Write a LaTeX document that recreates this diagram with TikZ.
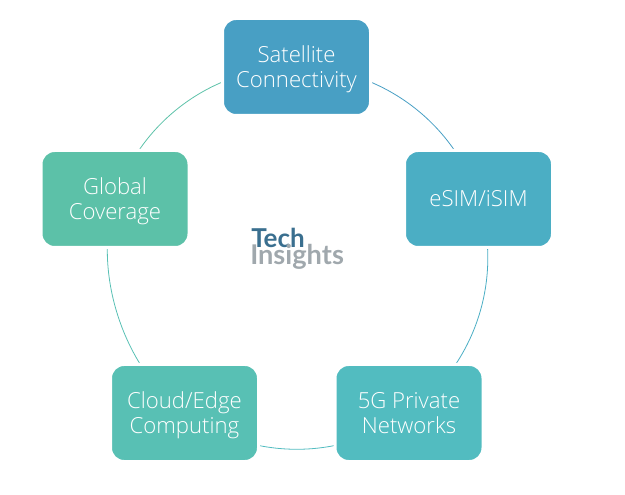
\documentclass[tikz,border=0pt]{standalone}
\usepackage{fontspec}
\setmainfont{Open Sans Light}
\newfontfamily\logofont{Lato}
\usepackage{tikz}
\usetikzlibrary{backgrounds}
\definecolor{SatBlue}{HTML}{489FC4}
\definecolor{EsimBlue}{HTML}{4BAEC4}
\definecolor{PrivateTeal}{HTML}{52BCC0}
\definecolor{CloudTeal}{HTML}{58C0B4}
\definecolor{GlobalGreen}{HTML}{5CC1A8}
\definecolor{LogoBlue}{HTML}{3A6F8F}
\definecolor{LogoGrey}{HTML}{A0A8AD}
\newcommand{\topictext}[2][-2.2pt]{\raisebox{#1}[\height][\depth]{\begin{tabular}{@{}c@{}}#2\end{tabular}}}
\tikzset{
  topicbox/.style={rectangle, rounded corners=13.5*0.75pt, draw=white, line width=2.25pt, minimum width=148*0.75pt, minimum height=97*0.75pt, inner sep=0pt, text=white, font=\fontsize{16.6}{18.75}\selectfont},
  ringlink/.style={line width=0.6pt, looseness=0.94},
  logotext/.style={inner sep=0pt, font=\logofont\bfseries\fontsize{19.5}{19.5}\selectfont}
}
\begin{document}
\begin{tikzpicture}[x=0.75pt, y=-0.75pt]
  \useasboundingbox (0,0) rectangle (625,495);
  \node[topicbox, fill=SatBlue] (sat) at (296.5,67) {\topictext{Satellite\\Connectivity}};
  \node[topicbox, fill=EsimBlue] (esim) at (478.5,199) {\topictext[-1.6pt]{eSIM/iSIM}};
  \node[topicbox, fill=PrivateTeal] (private) at (409,413) {\topictext{5G Private\\Networks}};
  \node[topicbox, fill=CloudTeal] (cloud) at (184.5,413) {\topictext{Cloud/Edge\\Computing}};
  \node[topicbox, fill=GlobalGreen] (global) at (115,199) {\topictext{Global\\Coverage}};

  \begin{scope}[on background layer]
    \draw[ringlink, SatBlue] (sat.center) to[out=0, in=108] (esim.center);
    \draw[ringlink, EsimBlue] (esim.center) to[out=-72, in=36] (private.center);
    \draw[ringlink, PrivateTeal] (private.center) to[out=-144, in=-36] (cloud.center);
    \draw[ringlink, CloudTeal, looseness=0.86] (cloud.center) to[out=144, in=-108] (global.center);
    \draw[ringlink, GlobalGreen] (global.center) to[out=72, in=180] (sat.center);
  \end{scope}

  \node[logotext, text=LogoBlue, anchor=base west] (techlabel) at (251,248) {Tech};
  \node[logotext, text=LogoGrey, anchor=base west, font=\logofont\bfseries\fontsize{20.4}{20.4}\selectfont] (insightslabel) at (250,265) {Insights};
\end{tikzpicture}
\end{document}
